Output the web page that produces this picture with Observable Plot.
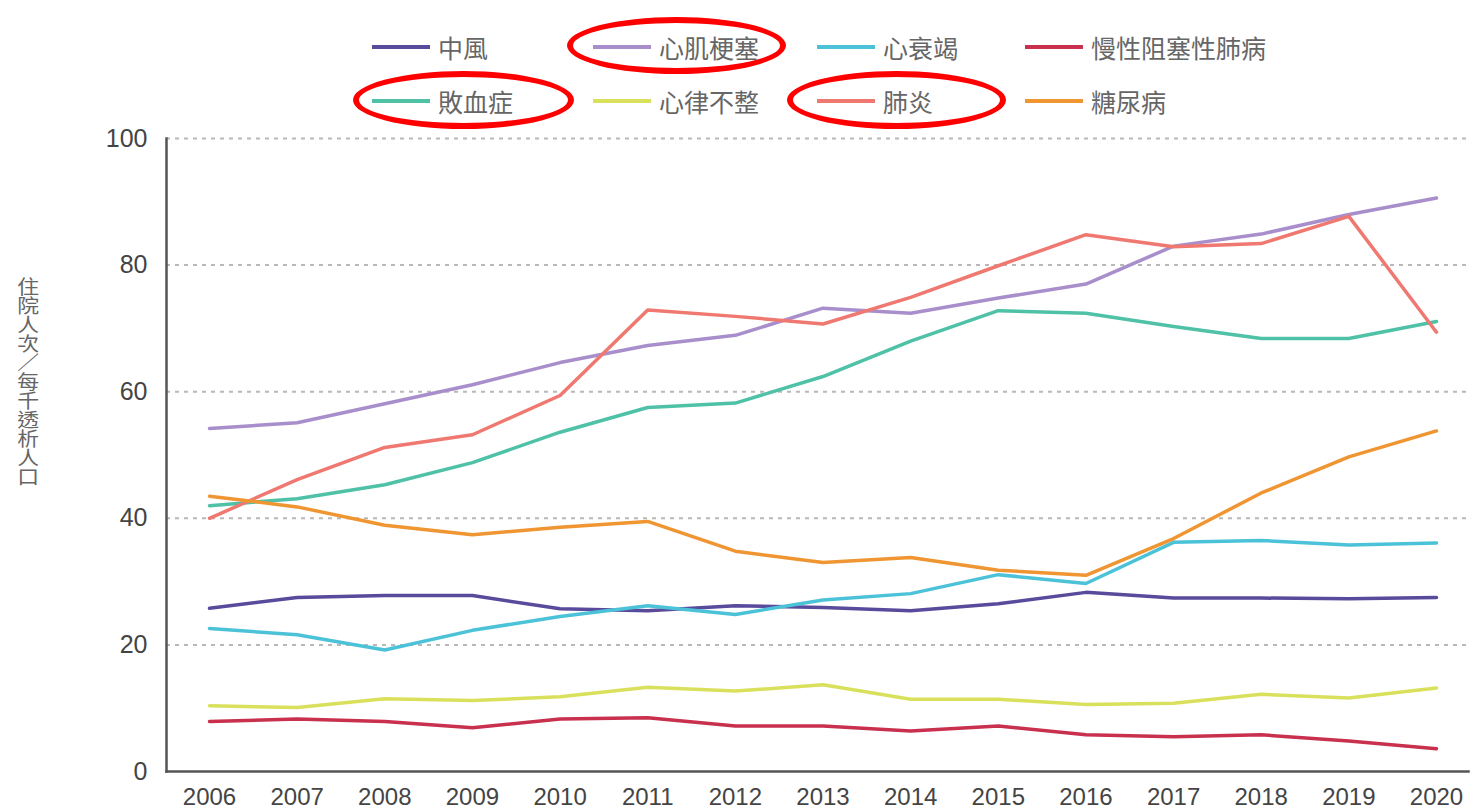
<!DOCTYPE html>
<html><head><meta charset="utf-8">
<script src="https://cdn.jsdelivr.net/npm/d3@7"></script>
<script src="https://cdn.jsdelivr.net/npm/@observablehq/plot@0.6"></script>
<style>
body{margin:0;background:#fff;width:1472px;height:811px;overflow:hidden;position:relative;font-family:"Liberation Sans","Noto Sans CJK TC",sans-serif;}
#legend{position:absolute;left:0;top:0;width:1472px;height:130px;}
.item{position:absolute;display:flex;align-items:center;height:30px;white-space:nowrap;}
.sw{width:58px;height:4px;margin-right:8px;}
.lab{font-family:"Noto Sans CJK TC",sans-serif;font-size:25px;color:#666;line-height:30px;}
.ring{position:absolute;border:6px solid #ff0000;border-radius:50%;box-sizing:border-box;}
#ytitle{position:absolute;left:15px;top:277px;writing-mode:vertical-rl;font-family:"Noto Sans CJK TC",sans-serif;font-size:19px;line-height:22px;color:#666;transform:scaleX(1.15);transform-origin:left top;}
#chart{position:absolute;left:0;top:120px;}
</style></head>
<body>
<div id="legend"></div>
<div id="ytitle"></div>
<div id="chart"></div>
<script>
// ---- data ----
const years = [2006,2007,2008,2009,2010,2011,2012,2013,2014,2015,2016,2017,2018,2019,2020];
const seriesNames = ["中風","心肌梗塞","心衰竭","慢性阻塞性肺病","敗血症","心律不整","肺炎","糖尿病"];
const seriesColors = ["#5a4a9c","#a88ecb","#4cc2d8","#c8304e","#4fc1a7","#d9e05c","#ef7870","#ef9531"];
const stroke_    = [25.8,27.5,27.8,27.8,25.7,25.4,26.2,25.9,25.4,26.5,28.3,27.4,27.4,27.3,27.5];
const mi         = [54.2,55.1,58.1,61.1,64.6,67.3,68.9,73.2,72.4,74.8,77.0,83.0,84.9,88.0,90.6];
const heartFail  = [22.6,21.6,19.2,22.3,24.5,26.2,24.8,27.1,28.1,31.1,29.7,36.2,36.5,35.8,36.1];
const copd       = [7.9,8.3,7.9,6.9,8.3,8.5,7.2,7.2,6.4,7.2,5.8,5.5,5.8,4.8,3.6];
const sepsis     = [42.0,43.1,45.3,48.8,53.6,57.5,58.2,62.4,68.0,72.8,72.4,70.3,68.4,68.4,71.1];
const arrhythmia = [10.4,10.1,11.5,11.2,11.8,13.3,12.7,13.7,11.4,11.4,10.6,10.8,12.2,11.6,13.2];
const pneumonia  = [40.0,46.1,51.2,53.2,59.4,72.9,71.9,70.7,74.9,79.9,84.8,82.9,83.4,87.7,69.4];
const diabetes   = [43.5,41.8,38.9,37.4,38.6,39.5,34.8,33.0,33.8,31.8,31.0,36.8,44.0,49.7,53.8];
const yTicks = [0,20,40,60,80,100];
const yTitle = "住院人次／每千透析人口";
const highlighted = ["心肌梗塞","敗血症","肺炎"];

const valuesBySeries = [stroke_, mi, heartFail, copd, sepsis, arrhythmia, pneumonia, diabetes];
const table = [];
seriesNames.forEach((s, i) => years.forEach((yr, j) => table.push({series: s, year: yr, value: valuesBySeries[i][j]})));

// ---- legend ----
const legend = document.getElementById("legend");
const cols = [372, 593, 817, 1025], rowsY = [32, 86];
seriesNames.forEach((s, i) => {
  const it = document.createElement("div");
  it.className = "item";
  it.style.left = cols[i % 4] + "px";
  it.style.top = rowsY[Math.floor(i / 4)] + "px";
  it.innerHTML = `<div class="sw" style="background:${seriesColors[i]}"></div><span class="lab">${s}</span>`;
  legend.appendChild(it);
});
const ringBoxes = {"心肌梗塞":[567,17,219,57], "敗血症":[353,71,221,58], "肺炎":[787,71,219,58]};
highlighted.forEach(s => {
  const [l,t,w,h] = ringBoxes[s];
  const r = document.createElement("div");
  r.className = "ring";
  Object.assign(r.style, {left:l+"px", top:t+"px", width:w+"px", height:h+"px"});
  legend.appendChild(r);
});
document.getElementById("ytitle").textContent = yTitle;

// ---- chart ----
const chart = Plot.plot({
  width: 1472, height: 691,
  marginLeft: 166, marginRight: 4, marginTop: 18, marginBottom: 40,
  x: {domain: [2006, 2020], insetLeft: 43, insetRight: 32},
  y: {domain: [0, 100]},
  color: {domain: seriesNames, range: seriesColors},
  style: {fontFamily: "Liberation Sans, Arial, sans-serif", fontSize: "24px", color: "#444", background: "transparent", overflow: "visible"},
  marks: [
    Plot.ruleY(yTicks.filter(d => d > 0), {stroke: "#b8b8b8", strokeWidth: 2, strokeDasharray: "4,5"}),
    Plot.frame({anchor: "left", stroke: "#555", strokeWidth: 2.5}),
    Plot.frame({anchor: "bottom", stroke: "#555", strokeWidth: 2.5}),
    Plot.axisX({ticks: years, tickSize: 0, tickPadding: 16, tickFormat: d => String(d), label: null, fontSize: 24}),
    Plot.axisY({ticks: yTicks, tickSize: 0, tickPadding: 19, label: null, fontSize: 25}),
    Plot.line(table, {x: "year", y: "value", z: "series", stroke: "series", strokeWidth: 3.5, strokeLinejoin: "round"})
  ]
});
document.getElementById("chart").appendChild(chart);
</script>
</body></html>
